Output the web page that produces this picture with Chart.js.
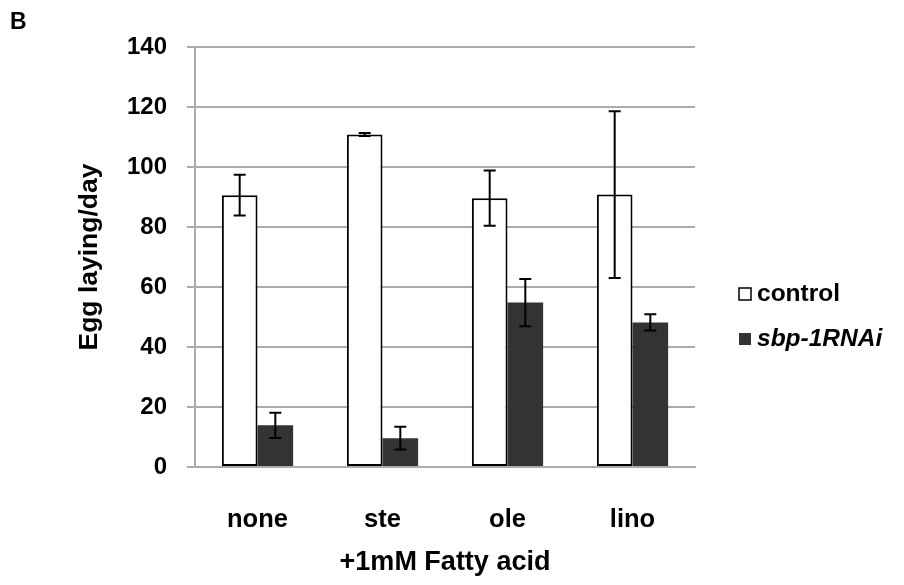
<!DOCTYPE html>
<html>
<head>
<meta charset="utf-8">
<script src="https://cdn.jsdelivr.net/npm/chart.js@4/dist/chart.umd.min.js"></script>
<style>
  html, body { margin: 0; padding: 0; background: #fff; }
  #wrap { width: 904px; height: 585px; }
</style>
</head>
<body>
<div id="wrap"><canvas id="eggChart" width="904" height="585"></canvas></div>
<script>
const categories = ["none", "ste", "ole", "lino"];
const controlMeans = [90.6, 110.8, 89.6, 90.8];
const controlErrors = [6.8, 0.5, 9.2, 27.8];
const sbpMeans = [13.9, 9.6, 54.8, 48.2];
const sbpErrors = [4.2, 3.8, 7.9, 2.7];
const yTicks = { min: 0, max: 140, step: 20 };

const FONT = "'Liberation Sans', Arial, sans-serif";
const gridGray = "#ababab";

const errorBars = {
  id: "errorBars",
  afterDatasetsDraw(chart) {
    const { ctx } = chart;
    const yScale = chart.scales.y;
    ctx.save();
    ctx.strokeStyle = "#000";
    ctx.lineWidth = 2;
    chart.data.datasets.forEach((ds, di) => {
      const meta = chart.getDatasetMeta(di);
      meta.data.forEach((bar, i) => {
        const err = ds.errors[i];
        const mean = ds.data[i];
        const yHi = yScale.getPixelForValue(mean + err);
        const yLo = yScale.getPixelForValue(mean - err);
        const cap = 6;
        ctx.beginPath();
        ctx.moveTo(bar.x, yHi);
        ctx.lineTo(bar.x, yLo);
        ctx.moveTo(bar.x - cap, yHi);
        ctx.lineTo(bar.x + cap, yHi);
        ctx.moveTo(bar.x - cap, yLo);
        ctx.lineTo(bar.x + cap, yLo);
        ctx.stroke();
      });
    });
    ctx.restore();
  }
};

// legend on the right with one italic entry, plus the panel letter
const sideLegend = {
  id: "sideLegend",
  afterDraw(chart) {
    const { ctx } = chart;
    ctx.save();
    ctx.textBaseline = "middle";
    ctx.textAlign = "left";
    const rows = [
      { y: 294, style: "bold" },
      { y: 339, style: "italic bold" }
    ];
    chart.data.datasets.forEach((ds, i) => {
      const row = rows[i];
      ctx.fillStyle = ds.backgroundColor;
      ctx.fillRect(739, row.y - 6, 12, 12);
      if (ds.borderWidth) {
        ctx.strokeStyle = ds.borderColor;
        ctx.lineWidth = 1.5;
        ctx.strokeRect(739, row.y - 6, 12, 12);
      }
      ctx.fillStyle = "#000";
      ctx.font = row.style + " 24.5px " + FONT;
      ctx.fillText(ds.label, 757, row.y);
    });
    ctx.font = "bold 23px " + FONT;
    ctx.fillText("B", 10, 23);
    ctx.restore();
  }
};

new Chart(document.getElementById("eggChart"), {
  type: "bar",
  data: {
    labels: categories,
    datasets: [
      {
        label: "control",
        data: controlMeans,
        errors: controlErrors,
        backgroundColor: "#ffffff",
        borderColor: "#000000",
        borderWidth: 2,
        borderSkipped: false
      },
      {
        label: "sbp-1RNAi",
        data: sbpMeans,
        errors: sbpErrors,
        backgroundColor: "#333333",
        borderWidth: 0
      }
    ]
  },
  options: {
    responsive: false,
    animation: false,
    devicePixelRatio: 1,
    layout: { padding: { top: 47, right: 209, bottom: 0, left: 0 } },
    datasets: { bar: { categoryPercentage: 0.57, barPercentage: 1 } },
    plugins: {
      legend: { display: false },
      tooltip: { enabled: false }
    },
    scales: {
      x: {
        grid: { display: false },
        border: { color: gridGray, width: 2 },
        ticks: {
          color: "#000",
          padding: 30,
          font: { family: FONT, size: 25.5, weight: "bold" }
        },
        title: {
          display: true,
          text: "+1mM Fatty acid",
          color: "#000",
          padding: { bottom: 6 },
          font: { family: FONT, size: 27, weight: "bold" }
        },
        afterFit: (scale) => { scale.height = 118; }
      },
      y: {
        min: yTicks.min,
        max: yTicks.max,
        grid: { color: gridGray, lineWidth: 2, tickLength: 8 },
        border: { color: gridGray, width: 2 },
        ticks: {
          stepSize: yTicks.step,
          color: "#000",
          padding: 20,
          font: { family: FONT, size: 24, weight: "bold" }
        },
        title: {
          display: true,
          text: "Egg laying/day",
          color: "#000",
          padding: { top: 74 },
          font: { family: FONT, size: 26.5, weight: "bold" }
        },
        afterFit: (scale) => { scale.width = 195; }
      }
    }
  },
  plugins: [errorBars, sideLegend]
});
</script>
</body>
</html>
